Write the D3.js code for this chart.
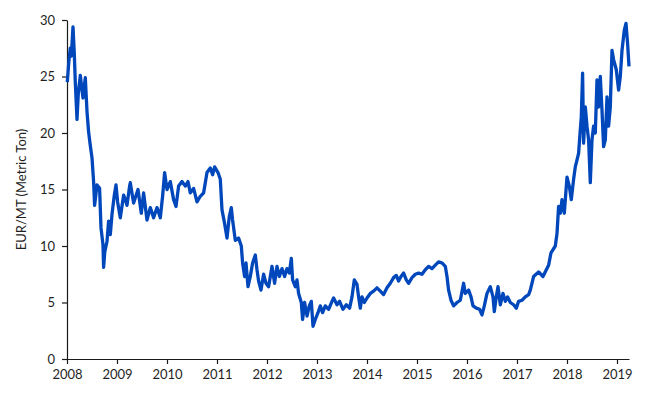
<!DOCTYPE html>
<html>
<head>
<meta charset="utf-8">
<script src="https://cdn.jsdelivr.net/npm/d3@7"></script>
<style>
  html, body { margin: 0; padding: 0; background: #fff; }
  svg { display: block; }
  text { font-family: Lato, "Open Sans", sans-serif; }
</style>
</head>
<body>
<svg id="chart" width="663" height="403"></svg>
<script>
// Decimal years of the price observations
const years = [
  2008.006, 2008.036, 2008.066, 2008.086, 2008.12, 2008.146, 2008.166, 2008.20, 2008.226, 2008.266,
  2008.32, 2008.366, 2008.40, 2008.432, 2008.466, 2008.50, 2008.532, 2008.552, 2008.60, 2008.652,
  2008.68, 2008.72, 2008.732, 2008.756, 2008.80, 2008.832, 2008.866, 2008.90, 2008.946, 2008.98,
  2009.012, 2009.066, 2009.132, 2009.166, 2009.20, 2009.252, 2009.266, 2009.332, 2009.42, 2009.486,
  2009.532, 2009.60, 2009.666, 2009.732, 2009.80, 2009.866, 2009.912, 2009.952, 2010.00, 2010.066,
  2010.132, 2010.18, 2010.232, 2010.30, 2010.366, 2010.42, 2010.466, 2010.532, 2010.60, 2010.666,
  2010.732, 2010.80, 2010.866, 2010.912, 2010.952, 2011.02, 2011.066, 2011.10, 2011.152, 2011.20,
  2011.246, 2011.286, 2011.312, 2011.366, 2011.432, 2011.486, 2011.512, 2011.552, 2011.58, 2011.62,
  2011.666, 2011.712, 2011.766, 2011.80, 2011.832, 2011.88, 2011.932, 2011.98, 2012.032, 2012.10,
  2012.152, 2012.20, 2012.246, 2012.30, 2012.352, 2012.40, 2012.446, 2012.486, 2012.512, 2012.566,
  2012.60, 2012.632, 2012.686, 2012.712, 2012.752, 2012.80, 2012.846, 2012.886, 2012.92, 2012.966,
  2013.02, 2013.066, 2013.112, 2013.166, 2013.232, 2013.30, 2013.332, 2013.40, 2013.452, 2013.52,
  2013.586, 2013.652, 2013.70, 2013.746, 2013.80, 2013.832, 2013.866, 2013.90, 2013.946, 2014.00,
  2014.066, 2014.132, 2014.20, 2014.266, 2014.332, 2014.40, 2014.466, 2014.532, 2014.586, 2014.632,
  2014.68, 2014.732, 2014.786, 2014.832, 2014.90, 2014.966, 2015.032, 2015.10, 2015.166, 2015.232,
  2015.30, 2015.366, 2015.432, 2015.50, 2015.566, 2015.60, 2015.632, 2015.68, 2015.732, 2015.80,
  2015.866, 2015.932, 2015.966, 2016.032, 2016.08, 2016.12, 2016.186, 2016.252, 2016.30, 2016.346,
  2016.40, 2016.466, 2016.52, 2016.546, 2016.586, 2016.62, 2016.666, 2016.72, 2016.766, 2016.812,
  2016.866, 2016.932, 2016.986, 2017.032, 2017.10, 2017.166, 2017.232, 2017.266, 2017.332, 2017.432,
  2017.52, 2017.586, 2017.632, 2017.68, 2017.766, 2017.80, 2017.832, 2017.866, 2017.90, 2017.946,
  2018.00, 2018.046, 2018.086, 2018.132, 2018.166, 2018.232, 2018.266, 2018.286, 2018.312, 2018.332,
  2018.366, 2018.40, 2018.432, 2018.466, 2018.50, 2018.532, 2018.566, 2018.60, 2018.632, 2018.666,
  2018.70, 2018.732, 2018.766, 2018.80, 2018.832, 2018.866, 2018.90, 2018.932, 2018.986, 2019.032,
  2019.066, 2019.10, 2019.146, 2019.18, 2019.212, 2019.24
];

// EUR per metric ton
const prices = [
  24.5, 26.3, 27.5, 26.8, 29.4, 27.0, 24.5, 21.2, 23.5, 25.1,
  23.1, 24.9, 21.9, 20.1, 18.9, 17.8, 15.7, 13.6, 15.4, 15.1,
  11.6, 10.1, 8.1, 9.5, 10.4, 12.2, 11.0, 12.8, 14.5, 15.4,
  13.9, 12.5, 14.5, 14.1, 13.6, 15.3, 15.6, 13.8, 15.0, 12.9,
  14.7, 12.3, 13.4, 12.5, 13.4, 12.5, 14.4, 16.5, 15.0, 15.7,
  14.1, 13.5, 15.3, 15.7, 15.3, 15.7, 14.7, 15.1, 13.9, 14.4,
  14.7, 16.5, 16.9, 16.3, 17.0, 16.5, 15.9, 13.2, 12.0, 10.7,
  12.6, 13.4, 12.3, 10.5, 10.7, 10.0, 8.5, 7.3, 8.5, 6.4,
  7.3, 8.5, 9.2, 7.9, 6.9, 6.1, 7.5, 6.7, 6.4, 8.2,
  6.7, 8.2, 7.3, 8.0, 7.3, 8.0, 7.6, 8.9, 7.0, 6.4,
  7.0, 5.8, 5.0, 3.5, 5.0, 3.8, 4.7, 5.1, 2.9, 3.5,
  4.1, 4.7, 4.1, 4.7, 4.4, 5.1, 5.4, 4.8, 5.1, 4.4,
  4.8, 4.5, 5.5, 7.0, 6.6, 5.5, 4.5, 5.5, 5.0, 5.4,
  5.8, 6.0, 6.3, 6.0, 5.7, 6.3, 6.7, 7.2, 7.4, 6.9,
  7.3, 7.6, 7.0, 6.7, 7.2, 7.5, 7.6, 7.5, 7.9, 8.2,
  8.0, 8.3, 8.6, 8.5, 8.2, 7.3, 6.1, 5.2, 4.7, 5.0,
  5.2, 6.7, 5.8, 6.1, 5.5, 4.7, 4.5, 4.4, 3.9, 4.7,
  5.8, 6.4, 5.5, 4.2, 5.5, 6.4, 4.8, 5.8, 5.1, 5.5,
  5.0, 4.8, 4.5, 5.1, 5.2, 5.5, 5.7, 6.1, 7.3, 7.7,
  7.3, 7.9, 8.3, 9.4, 10.0, 11.1, 13.5, 12.9, 14.1, 12.9,
  16.1, 15.3, 14.1, 15.9, 17.0, 18.2, 20.3, 21.4, 25.3, 19.1,
  22.3, 20.6, 19.4, 15.6, 19.4, 20.6, 20.0, 24.7, 22.3, 25.0,
  22.0, 18.8, 19.4, 23.2, 20.6, 22.3, 27.3, 26.5, 25.6, 23.8,
  25.0, 27.3, 29.1, 29.7, 27.9, 25.9
];

const yTicks = [0, 5, 10, 15, 20, 25, 30];
const xTicks = [2008, 2009, 2010, 2011, 2012, 2013, 2014, 2015, 2016, 2017, 2018, 2019];
const yLabel = "EUR/MT (Metric Ton)";

const data = years.map((y, i) => ({ t: y, v: prices[i] }));

const margin = { left: 67, right: 34, top: 20, bottom: 44 };
const W = 663, H = 403;
const svg = d3.select("#chart");

const x = d3.scaleLinear().domain([2008, 2019.24]).range([margin.left, W - margin.right]);
const y = d3.scaleLinear().domain([0, 30]).range([H - margin.bottom, margin.top]);

const axisColor = "#1a1a1a";
const textColor = "#1f1f1f";

// X axis
const gx = svg.append("g")
  .attr("transform", `translate(0,${y(0)})`)
  .call(d3.axisBottom(x).tickValues(xTicks).tickFormat(d3.format("d")).tickSize(5).tickSizeOuter(0));
gx.select(".domain").attr("stroke", axisColor).attr("stroke-width", 1.2);
gx.selectAll(".tick line").attr("stroke", axisColor).attr("stroke-width", 1.2);
gx.selectAll(".tick text").attr("fill", textColor).attr("font-size", 13).attr("dy", "0.95em")
  .style("font-family", "Lato, 'Open Sans', sans-serif");

// Y axis
const gy = svg.append("g")
  .attr("transform", `translate(${x(2008)},0)`)
  .call(d3.axisLeft(y).tickValues(yTicks).tickSize(5).tickSizeOuter(0).tickPadding(7));
gy.select(".domain").attr("stroke", axisColor).attr("stroke-width", 1.2);
gy.selectAll(".tick line").attr("stroke", axisColor).attr("stroke-width", 1.2);
gy.selectAll(".tick text").attr("fill", textColor).attr("font-size", 13)
  .style("font-family", "Lato, 'Open Sans', sans-serif");

// Y label
svg.append("text")
  .attr("transform", `translate(26,${(y(0) + y(30)) / 2}) rotate(-90)`)
  .attr("text-anchor", "middle")
  .attr("fill", textColor)
  .attr("font-size", 13)
  .text(yLabel);

// Line
const line = d3.line().x(d => x(d.t)).y(d => y(d.v)).curve(d3.curveLinear);
svg.append("path")
  .datum(data)
  .attr("fill", "none")
  .attr("stroke", "#0047bb")
  .attr("stroke-width", 3.3)
  .attr("stroke-linejoin", "round")
  .attr("d", line);
</script>
</body>
</html>
